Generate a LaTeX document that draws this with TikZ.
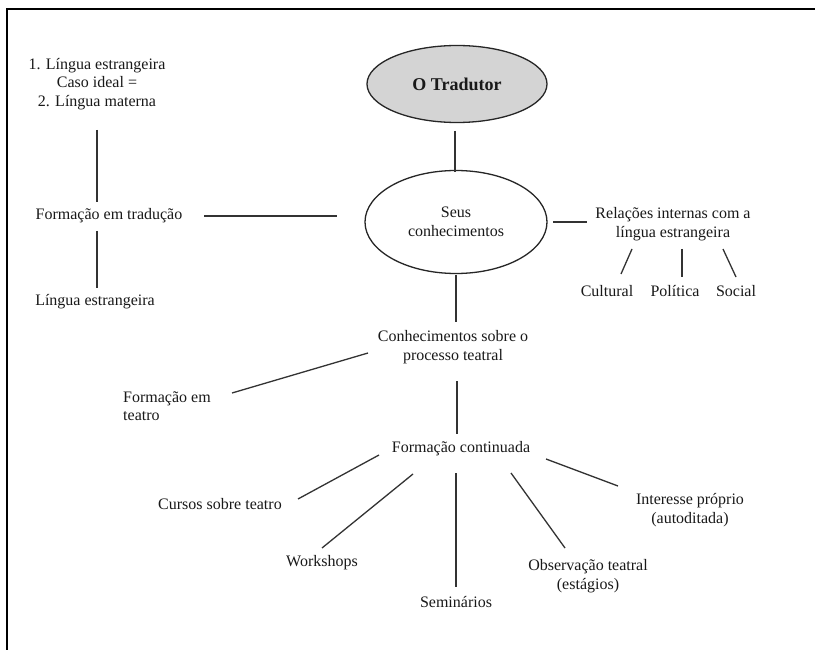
\documentclass[tikz,border=0pt]{standalone}
\usepackage{fontspec}
\setmainfont{Liberation Serif}
\usetikzlibrary{shapes.geometric}
\begin{document}
\begin{tikzpicture}[x=1pt,y=-1pt,
  txt/.style={font=\fontsize{16}{18.5}\selectfont, align=center, inner sep=0pt, text=black!90},
  link/.style={line width=1.3pt, draw=black!80},
  ell/.style={ellipse, draw=black!85, line width=1.3pt, inner sep=0pt}
]
\useasboundingbox (0,0) rectangle (815,650);
\fill[white] (0,0) rectangle (815,650);
\draw[line width=2pt] (815,9.5) -- (7,9.5) -- (7,650);

% nodes
\node[ell, fill=black!17, minimum width=180, minimum height=77, text=black!90,
      font=\fontsize{18}{20}\selectfont\bfseries] (trad) at (457,84) {O Tradutor};
\node[ell, txt, minimum width=182, minimum height=103] (seus) at (456,222) {Seus\\conhecimentos};
\node[txt] (ideal) at (97,84) {1. Língua estrangeira\\Caso ideal =\\2. Língua materna};
\node[txt] (ftrad) at (109,216) {Formação em tradução};
\node[txt] (lest) at (95,302) {Língua estrangeira};
\node[txt] (rel) at (673,224) {Relações internas com a\\língua estrangeira};
\node[txt] (cult) at (607,291) {Cultural};
\node[txt] (pol) at (675,291) {Política};
\node[txt] (soc) at (736,291) {Social};
\node[txt] (conh) at (453,347) {Conhecimentos sobre o\\processo teatral};
\node[txt, align=left, anchor=west] (fteat) at (123,406) {Formação em\\teatro};
\node[txt] (fcont) at (461,449) {Formação continuada};
\node[txt] (curs) at (220,504) {Cursos sobre teatro};
\node[txt] (work) at (322,563) {Workshops};
\node[txt] (semi) at (456,602) {Seminários};
\node[txt] (obs) at (588,576) {Observação teatral\\(estágios)};
\node[txt] (inter) at (690,510) {Interesse próprio\\(autoditada)};

% connector end points
\coordinate (trad-b) at (455,131);  \coordinate (seus-t) at (455,172);
\coordinate (ftrad-r) at (204,216); \coordinate (seus-l) at (337,216);
\coordinate (seus-r) at (553,222);  \coordinate (rel-l) at (587,222);
\coordinate (rel-c) at (632,249);   \coordinate (cult-t) at (621,274);
\coordinate (rel-p) at (682,249);   \coordinate (pol-t) at (682,277);
\coordinate (rel-s) at (723,249);   \coordinate (soc-t) at (736,277);
\coordinate (ideal-b) at (97,130);  \coordinate (ftrad-t) at (97,202);
\coordinate (ftrad-b) at (97,231);  \coordinate (lest-t) at (97,288);
\coordinate (seus-b) at (456,275);  \coordinate (conh-t) at (456,322);
\coordinate (conh-l) at (368,353);  \coordinate (fteat-r) at (232,393);
\coordinate (conh-b) at (457,381);  \coordinate (fcont-t) at (457,434);
\coordinate (fc-1) at (379,455);    \coordinate (curs-r) at (298,499);
\coordinate (fc-2) at (413,474);    \coordinate (work-t) at (322,548);
\coordinate (fc-3) at (456,473);    \coordinate (semi-t) at (456,587);
\coordinate (fc-4) at (511,473);    \coordinate (obs-t) at (565,548);
\coordinate (fc-5) at (546,459);    \coordinate (inter-l) at (618,486);

% connectors
\draw[link] (trad-b) -- (seus-t);
\draw[link] (ftrad-r) -- (seus-l);
\draw[link] (seus-r) -- (rel-l);
\draw[link] (rel-c) -- (cult-t);
\draw[link] (rel-p) -- (pol-t);
\draw[link] (rel-s) -- (soc-t);
\draw[link] (ideal-b) -- (ftrad-t);
\draw[link] (ftrad-b) -- (lest-t);
\draw[link] (seus-b) -- (conh-t);
\draw[link] (conh-l) -- (fteat-r);
\draw[link] (conh-b) -- (fcont-t);
\draw[link] (fc-1) -- (curs-r);
\draw[link] (fc-2) -- (work-t);
\draw[link] (fc-3) -- (semi-t);
\draw[link] (fc-4) -- (obs-t);
\draw[link] (fc-5) -- (inter-l);
\end{tikzpicture}
\end{document}
